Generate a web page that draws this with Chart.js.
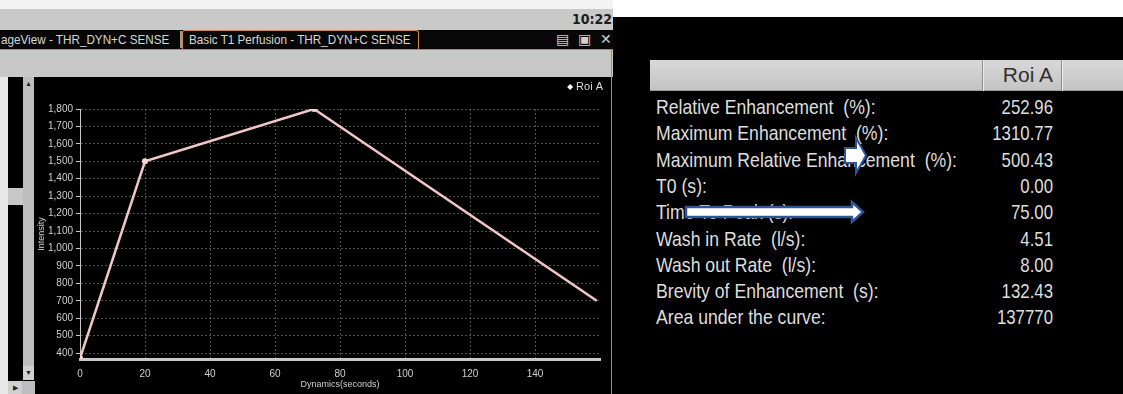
<!DOCTYPE html>
<html>
<head>
<meta charset="utf-8">
<script src="https://cdn.jsdelivr.net/npm/chart.js@4"></script>
<style>
  body { margin: 0; width: 1123px; height: 394px; overflow: hidden; background: #000; position: relative;
         font-family: "Liberation Sans", Arial, sans-serif; }
  .abs { position: absolute; }
  #topWhite { left: 0; top: 0; width: 613px; height: 9px; background: #f4f4f4; }
  #topBar { left: 0; top: 9px; width: 613px; height: 21px; background: #c9c9c9; }
  #clock { right: 1px; top: 2px; font: bold 14px "DejaVu Sans Condensed", "Liberation Sans", sans-serif; color: #1c1c1c; }
  #tabBar { left: 0; top: 30px; width: 613px; height: 20px; background: #070707; border-bottom: 1px solid #c8843a; box-sizing: border-box; }
  .tab { top: 2px; font-size: 13px; color: #d6d6d6; white-space: nowrap; transform: scaleX(0.9); transform-origin: left; }
  #tabActive { left: 182px; top: 30px; width: 237px; height: 19px; border: 1px solid #d08a40; border-bottom: none; border-radius: 3px 3px 0 0; box-sizing: border-box; }
  #tabSep { left: 180px; top: 31px; width: 2px; height: 17px; background: #9a9a9a; }
  #tabIcons { right: -8px; top: 1px; font-size: 14px; color: #d0d0d0; letter-spacing: 9px; }
  #grayBand { left: 0; top: 50px; width: 613px; height: 27px; background: #c8c8c8; }
  #orangeV { left: 611px; top: 50px; width: 1px; height: 344px; background: #c8843a; }
  #leftStrip { left: 0; top: 77px; width: 8px; height: 317px; background: #e8e8e8; }
  #splitter { left: 8px; top: 188px; width: 15px; height: 17px; background: #c8c8c8; }
  #vScroll { left: 23px; top: 77px; width: 11px; height: 303px; background: #bdbdbd; }
  .arrowBtn { font-size: 7px; color: #222; text-align: center; width: 11px; }
  #hLeft { left: 8px; top: 381px; width: 14px; height: 13px; background: #d0d0d0; font-size: 7px; color: #222; text-align: center; line-height: 13px; }
  #hGray { left: 22px; top: 381px; width: 13px; height: 13px; background: #bdbdbd; }
  #chartBox { left: 35px; top: 77px; width: 576px; height: 317px; }
  #rightWhite { left: 613px; top: 0; width: 510px; height: 17px; background: #fff; }
  #tblHead { left: 650px; top: 60px; width: 473px; height: 31px; background: linear-gradient(#d8d8d8, #c4c4c4); border-bottom: 1px solid #9a9a9a; box-sizing: border-box; }
  .sep { top: 0; width: 1px; height: 31px; background: #8e8e8e; box-shadow: 1px 0 0 #ececec; }
  #roiHead { left: 0; width: 403px; top: 3px; text-align: right; font-size: 21px; color: #303030; }
  .lbl { left: 656px; font-size: 21px; color: #dedede; white-space: pre; line-height: 26px; transform: scaleX(0.84); transform-origin: left; }
  .val { left: 900px; width: 153px; text-align: right; font-size: 21px; color: #dedede; line-height: 26px; transform: scaleX(0.8); transform-origin: right; }
  svg { position: absolute; left: 0; top: 0; }
</style>
</head>
<body>
<div class="abs" id="topWhite"></div>
<div class="abs" id="topBar"><span class="abs" id="clock">10:22</span></div>
<div class="abs" id="tabBar">
  <span class="abs tab" style="left:1px">ageView - THR_DYN+C SENSE</span>
  <span class="abs tab" style="left:189px">Basic T1 Perfusion - THR_DYN+C SENSE</span>
  <span class="abs" id="tabIcons">&#9636;&#9635;&#10005;</span>
</div>
<div class="abs" id="tabSep"></div>
<div class="abs" id="tabActive"></div>
<div class="abs" id="grayBand"></div>
<div class="abs" id="leftStrip"></div>
<div class="abs" id="splitter"></div>
<div class="abs" id="vScroll">
  <div class="abs arrowBtn" style="top:3px">&#9650;</div>
  <div class="abs arrowBtn" style="top:289px;height:14px;background:#d0d0d0;line-height:14px">&#9660;</div>
</div>
<div class="abs" id="hLeft">&#9654;</div>
<div class="abs" id="hGray"></div>
<div class="abs" id="chartBox"><canvas id="myChart"></canvas></div>
<div class="abs" id="orangeV"></div>

<div class="abs" id="rightWhite"></div>
<div class="abs" id="tblHead">
  <div class="abs sep" style="left:332px"></div>
  <div class="abs sep" style="left:411px"></div>
  <div class="abs" id="roiHead">Roi A</div>
</div>
<div id="table"></div>

<svg width="1123" height="394">
  <path d="M845 148 H856 V138 L866 155.5 L856 173 V163 H845 Z" fill="#fff" stroke="#2f5597" stroke-width="2"/>
  <path d="M686 207 H852 V202 L863 212 L852 222 V217 H686 Z" fill="#fff" stroke="#2f5597" stroke-width="2.5"/>
</svg>

<script>
// curve: time (s) vs intensity
const seconds = [0, 20, 72, 159];
const intensity = [370, 1500, 1800, 700];
const seriesName = "Roi A";

const xTickValues = [0, 20, 40, 60, 80, 100, 120, 140];
const yTickValues = [400, 500, 600, 700, 800, 900, 1000, 1100, 1200, 1300, 1400, 1500, 1600, 1700, 1800];

// parameter table
const paramLabels = [
    "Relative Enhancement  (%):",
    "Maximum Enhancement  (%):",
    "Maximum Relative Enhancement  (%):",
    "T0 (s):",
    "Time To Peak (s):",
    "Wash in Rate  (l/s):",
    "Wash out Rate  (l/s):",
    "Brevity of Enhancement  (s):",
    "Area under the curve:",
];
const paramValues = ["252.96", "1310.77", "500.43", "0.00", "75.00", "4.51", "8.00", "132.43", "137770"];

const tbl = document.getElementById("table");
paramLabels.forEach((label, i) => {
    const top = 94 + i * 26.3;
    tbl.insertAdjacentHTML("beforeend",
        `<div class="abs lbl" style="top:${top}px">${label}</div>` +
        `<div class="abs val" style="top:${top}px">${paramValues[i]}</div>`);
});

const fontFam = '"Liberation Sans", Arial, sans-serif';
const light = "#cfcfcf";
const gridCol = "rgba(160,160,160,0.5)";

// small legend in the top right corner, above the plot
const roiLegend = {
    id: "roiLegend",
    afterDraw(chart) {
        const c = chart.ctx;
        const ds = chart.data.datasets[0];
        const xr = chart.width - 8;
        const y = 10;
        c.save();
        c.font = `11px ${fontFam}`;
        c.fillStyle = "#dddddd";
        c.textAlign = "right";
        c.textBaseline = "middle";
        c.fillText(ds.label, xr, y);
        const w = c.measureText(ds.label).width;
        const dx = xr - w - 6;
        c.fillStyle = "#ffffff";
        c.beginPath();
        c.moveTo(dx, y - 3);
        c.lineTo(dx + 3, y);
        c.lineTo(dx, y + 3);
        c.lineTo(dx - 3, y);
        c.closePath();
        c.fill();
        c.restore();
    },
};

const ctx = document.getElementById("myChart").getContext("2d");

const config = {
    type: "line",
    data: {
        datasets: [
            {
                label: seriesName,
                data: seconds.map((s, i) => ({ x: s, y: intensity[i] })),
                borderColor: "#f0c6c6",
                backgroundColor: "#f6d8d8",
                borderWidth: 2.5,
                pointRadius: [3, 3, 3, 0],
                pointStyle: "circle",
                pointBorderWidth: 0,
                tension: 0,
            },
        ],
    },
    options: {
        animation: false,
        responsive: true,
        maintainAspectRatio: false,
        layout: { padding: { top: 32, right: 11, left: 0, bottom: 0 } },
        plugins: {
            legend: { display: false },
            tooltip: { enabled: false },
        },
        scales: {
            x: {
                type: "linear",
                min: 0,
                max: 160,
                afterBuildTicks: (s) => { s.ticks = xTickValues.map((v) => ({ value: v })); },
                afterFit: (s) => { s.height = 35; },
                grid: { color: gridCol, lineWidth: 1, drawTicks: false },
                border: { display: true, color: "#c8c8c8", width: 3, dash: [2, 2] },
                ticks: { color: light, padding: 9, font: { family: fontFam, size: 10 }, maxRotation: 0 },
                title: {
                    display: true,
                    text: "Dynamics(seconds)",
                    color: light,
                    font: { family: fontFam, size: 9 },
                    padding: { top: 0, bottom: 4 },
                },
            },
            y: {
                min: 366,
                max: 1800,
                afterBuildTicks: (s) => { s.ticks = yTickValues.map((v) => ({ value: v })); },
                afterFit: (s) => { s.width = 45; },
                grid: { color: gridCol, lineWidth: 1, drawTicks: true, tickLength: 4, tickColor: "#c8c8c8", tickBorderDash: [] },
                border: { display: true, color: "#c8c8c8", width: 1, dash: [2, 2] },
                ticks: {
                    color: light,
                    padding: 3,
                    font: { family: fontFam, size: 10 },
                    callback: (v) => v.toLocaleString("en-US"),
                },
                title: {
                    display: true,
                    text: "Intensity",
                    color: light,
                    font: { family: fontFam, size: 9 },
                    padding: { top: 1, bottom: 0 },
                },
            },
        },
    },
    plugins: [roiLegend],
};

const chart = new Chart(ctx, config);
</script>
</body>
</html>
